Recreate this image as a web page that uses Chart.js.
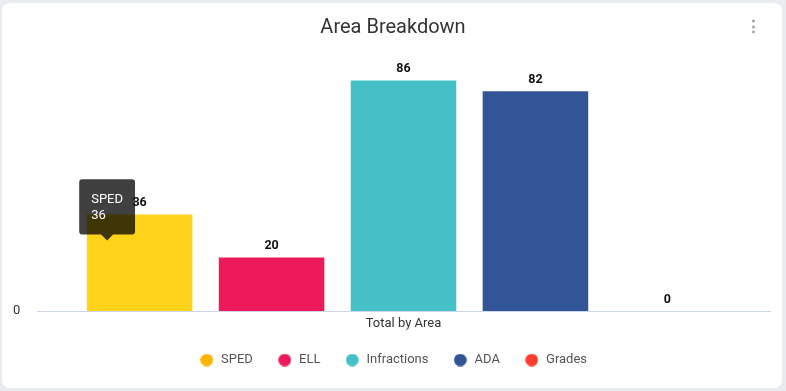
<!DOCTYPE html>
<html>
<head>
<meta charset="utf-8">
<script src="https://cdn.jsdelivr.net/npm/chart.js@4/dist/chart.umd.min.js"></script>
<style>
  html, body { margin: 0; padding: 0; background: #e9ecef; width: 786px; height: 391px; overflow: hidden; font-family: Roboto, "Noto Sans", sans-serif; }
  #card { position: absolute; left: 2px; top: 3px; width: 780px; height: 385px; background: #fff; border-radius: 8px; }
  #wrap { position: absolute; left: 0; top: 0; width: 786px; height: 391px; }
  #menu { position: absolute; left: 745px; top: 16px; width: 12px; height: 20px; color: #9e9e9e; font-size: 17px; line-height: 20px; text-align: center; font-weight: bold; }
</style>
</head>
<body>
<div id="card"></div>
<div id="wrap"><canvas id="c" width="786" height="391"></canvas></div>
<div id="menu">&#8942;</div>
<script>
const categories = ['Total by Area'];
const seriesNames = ['SPED', 'ELL', 'Infractions', 'ADA', 'Grades'];
const seriesValues = [36, 20, 86, 82, 0];
const barColors = ['#FFD31A', '#EC1A5A', '#45C0C6', '#325597', '#F5362B'];
const legendColors = ['#FFB400', '#EC1A5A', '#45C0C6', '#325597', '#FF3A2E'];
const yMax = 100;

const datasets = seriesNames.map((n, i) => ({
  label: n,
  data: [seriesValues[i]],
  backgroundColor: barColors[i],
  hoverBackgroundColor: barColors[i],
  borderWidth: 0,
  categoryPercentage: 0.9,
  barPercentage: 0.8
}));

function dot(color) {
  const c = document.createElement('canvas');
  c.width = 13; c.height = 13;
  const g = c.getContext('2d');
  g.fillStyle = color;
  g.beginPath();
  g.arc(6.5, 6.5, 6.35, 0, Math.PI * 2);
  g.fill();
  return c;
}
const legendDots = legendColors.map(dot);

const valueLabels = {
  id: 'valueLabels',
  afterDatasetsDraw(chart) {
    const ctx = chart.ctx;
    ctx.save();
    ctx.font = 'bold 12.5px Roboto, "Noto Sans", sans-serif';
    ctx.fillStyle = '#111';
    ctx.textAlign = 'center';
    ctx.textBaseline = 'bottom';
    chart.data.datasets.forEach((ds, i) => {
      const meta = chart.getDatasetMeta(i);
      meta.data.forEach((el, j) => {
        ctx.fillText(String(ds.data[j]), el.x, el.y - 5);
      });
    });
    ctx.restore();
  }
};

Chart.Tooltip.positioners.refPos = function(items) {
  if (!items.length) return false;
  const el = items[0].element;
  return { x: el.x - 32.5, y: el.y + 26 };
};

const chart = new Chart(document.getElementById('c'), {
  type: 'bar',
  data: { labels: categories, datasets },
  options: {
    responsive: false,
    animation: false,
    events: [],
    layout: { padding: { top: 16, left: 16, right: 16, bottom: 14.5 } },
    scales: {
      x: {
        grid: { display: false, drawTicks: false },
        border: { display: true, color: '#ccd6eb', width: 1 },
        ticks: { color: '#333', font: { size: 13, family: 'Roboto' }, padding: 5 },
        afterFit(scale) { scale.height = 18.5; }
      },
      y: {
        min: 0, max: yMax,
        grid: { display: false, drawTicks: false },
        border: { display: false },
        ticks: {
          stepSize: 20, mirror: true,
          color: '#333', font: { size: 13, family: 'Roboto' }, padding: -24,
          callback: v => (v === 0 ? '0' : '')
        },
        afterFit(scale) { scale.width = 21; }
      }
    },
    plugins: {
      title: {
        display: true, text: 'Area Breakdown', color: '#333',
        font: { size: 20, weight: 'normal', family: 'Roboto' },
        padding: { top: 0, bottom: 3 }
      },
      legend: {
        position: 'bottom',
        labels: {
          usePointStyle: true,
          pointStyleWidth: 15.6,
          boxHeight: 13,
          color: '#555', font: { size: 13, family: 'Roboto' },
          padding: 24,
          generateLabels(chart) {
            return chart.data.datasets.map((ds, i) => ({
              text: ds.label, fillStyle: legendColors[i], strokeStyle: legendColors[i],
              lineWidth: 0, pointStyle: legendDots[i], hidden: false, datasetIndex: i, fontColor: '#555'
            }));
          }
        }
      },
      tooltip: {
        position: 'refPos',
        backgroundColor: 'rgba(0,0,0,0.75)',
        titleColor: '#fff', bodyColor: '#fff',
        titleFont: { size: 13, weight: 'normal', family: 'Roboto' },
        bodyFont: { size: 13, family: 'Roboto' },
        titleMarginBottom: 0,
        padding: { left: 12, right: 12, top: 13, bottom: 11 },
        cornerRadius: 3, caretSize: 6, caretPadding: 0,
        xAlign: 'center', yAlign: 'bottom',
        displayColors: false,
        callbacks: {
          title: items => items[0].dataset.label,
          label: item => String(item.raw)
        }
      }
    }
  },
  plugins: [valueLabels]
});

chart.tooltip.setActiveElements([{ datasetIndex: 0, index: 0 }], { x: 0, y: 0 });
chart.update();
</script>
</body>
</html>
